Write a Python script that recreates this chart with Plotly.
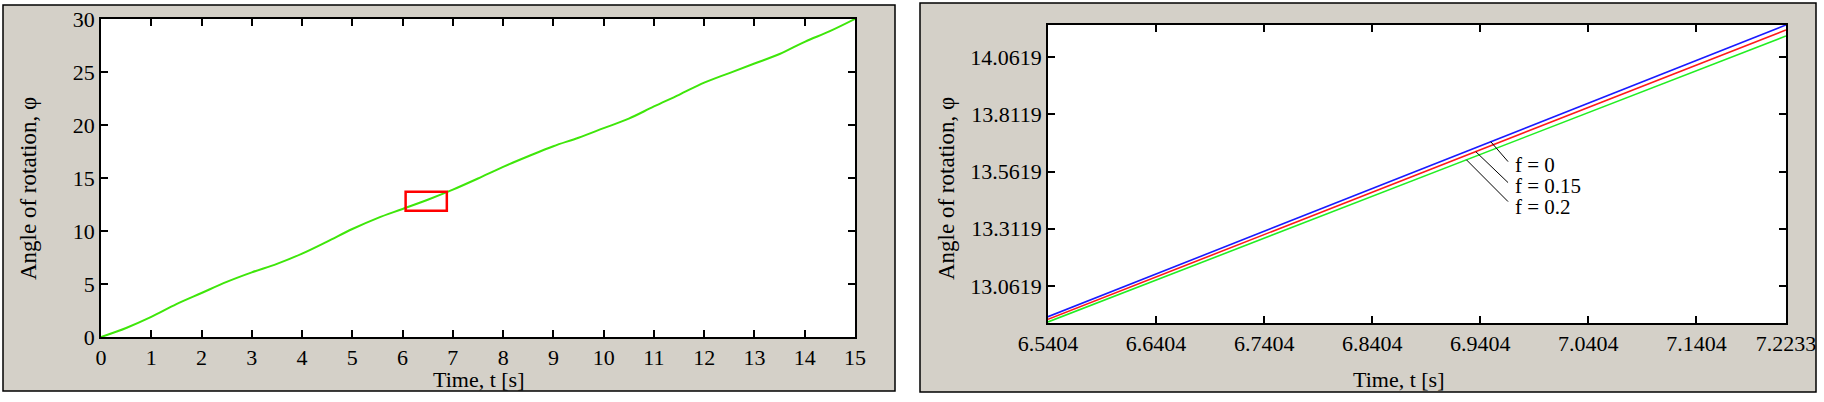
import numpy as np
import plotly.graph_objects as go

# full run, f = 0.2
t_full = [0, 0.5, 1, 1.5, 2, 2.5, 3, 3.5, 4, 4.5, 5, 5.5, 6, 6.5, 7, 7.5,
          8, 8.5, 9, 9.5, 10, 10.5, 11, 11.5, 12, 12.5, 13, 13.5, 14, 14.5, 15]
phi_full = [0, 0.85, 1.89, 3.1, 4.15, 5.2, 6.1, 6.9, 7.86, 9.0, 10.19, 11.22,
            12.08, 12.95, 13.9, 14.95, 16.05, 17.05, 18.0, 18.8, 19.7, 20.6,
            21.75, 22.85, 24.0, 24.9, 25.8, 26.7, 27.85, 28.85, 30]

# zoomed window, three friction values
t_zoom = [6.5404, 7.2233]
phi_f0 = [12.928, 14.2015]
phi_f015 = [12.9166, 14.1797]
phi_f02 = [12.905, 14.1535]
f_labels = ["f = 0", "f = 0.15", "f = 0.2"]

x_zoom_ticks = [6.5404, 6.6404, 6.7404, 6.8404, 6.9404, 7.0404, 7.1404, 7.2233]
y_zoom_ticks = [13.0619, 13.3119, 13.5619, 13.8119, 14.0619]

W, H = 1824, 402
FONT = "Liberation Serif"
PANEL = "#D4D0C8"
LEFT_PLOT = (101, 855, 19, 337)
RIGHT_PLOT = (1048, 1786, 25, 323)


def px(x):
    return x / W


def py(y):
    return 1 - y / H


fig = go.Figure()
fig.add_trace(go.Scatter(x=t_full, y=phi_full, mode="lines", line=dict(color="#3ee60a", width=2, shape="spline"),
                         xaxis="x", yaxis="y", showlegend=False))
for ys, col in zip([phi_f02, phi_f015, phi_f0], ["#22ee22", "#ff1a1a", "#1a1aff"]):
    fig.add_trace(go.Scatter(x=t_zoom, y=ys, mode="lines", line=dict(color=col, width=1.6),
                             xaxis="x2", yaxis="y2", showlegend=False))

axis_common = dict(showgrid=False, zeroline=False, showline=True, linecolor="black", linewidth=1.5,
                   mirror="ticks", ticks="inside", ticklen=7, tickwidth=1.5, tickcolor="black",
                   automargin=False, tickfont=dict(family=FONT, size=22, color="black"))

fig.update_layout(
    width=W, height=H,
    margin=dict(l=0, r=0, t=0, b=0, pad=0, autoexpand=False),
    paper_bgcolor="white", plot_bgcolor="white",
    xaxis=dict(domain=[px(LEFT_PLOT[0]), px(LEFT_PLOT[1])], range=[0, 15], tickmode="linear", tick0=0, dtick=1,
               anchor="y", **axis_common),
    yaxis=dict(domain=[py(LEFT_PLOT[3]), py(LEFT_PLOT[2])], range=[0, 30], tickmode="linear", tick0=0, dtick=5,
               anchor="x", **axis_common),
    xaxis2=dict(domain=[px(RIGHT_PLOT[0]), px(RIGHT_PLOT[1])], range=[6.5404, 7.2233], tickvals=x_zoom_ticks,
                ticktext=[f"{v:.4f}" for v in x_zoom_ticks], anchor="y2", **axis_common),
    yaxis2=dict(domain=[py(RIGHT_PLOT[3]), py(RIGHT_PLOT[2])], range=[12.9005, 14.2015], tickvals=y_zoom_ticks,
                ticktext=[f"{v:.4f}" for v in y_zoom_ticks], anchor="x2", **axis_common),
)

# grey panels behind each plot, white plot areas on top of them
shapes = []
for x0, x1, y0, y1 in [(3, 895, 5, 391), (920, 1816, 3, 392)]:
    shapes.append(dict(type="rect", xref="paper", yref="paper", x0=px(x0), x1=px(x1), y0=py(y1), y1=py(y0),
                       fillcolor=PANEL, line=dict(color="black", width=1.5), layer="below"))
for x0, x1, y0, y1 in [LEFT_PLOT, RIGHT_PLOT]:
    shapes.append(dict(type="rect", xref="paper", yref="paper", x0=px(x0), x1=px(x1), y0=py(y1), y1=py(y0),
                       fillcolor="white", line=dict(width=0), layer="below"))
# red box marking the zoomed window
shapes.append(dict(type="rect", xref="x", yref="y", x0=6.06, x1=6.88, y0=11.9, y1=13.7,
                   line=dict(color="red", width=2.5)))

# leader lines from each curve to its label
lead_t = [6.9501, 6.9362, 6.9276]
lead_end_t = 6.9661
lead_end_phi = [13.6051, 13.5135, 13.4306]
label_phi = [13.5907, 13.5004, 13.4074]
annotations = []
for ys, t0, ye, lab, yl in zip([phi_f0, phi_f015, phi_f02], lead_t, lead_end_phi, f_labels, label_phi):
    shapes.append(dict(type="line", xref="x2", yref="y2", x0=t0, y0=float(np.interp(t0, t_zoom, ys)),
                       x1=lead_end_t, y1=ye, line=dict(color="black", width=1)))
    annotations.append(dict(xref="x2", yref="y2", x=6.9704, y=yl, text=lab, showarrow=False,
                            xanchor="left", yanchor="middle", font=dict(family=FONT, size=21, color="black")))

for x, y, text, angle in [(478, 379, "Time, t [s]", 0), (28, 189, "Angle of rotation, φ", -90),
                          (1398, 379, "Time, t [s]", 0), (946, 189, "Angle of rotation, φ", -90)]:
    annotations.append(dict(xref="paper", yref="paper", x=px(x), y=py(y), text=text, showarrow=False,
                            xanchor="center", yanchor="middle", textangle=angle,
                            font=dict(family=FONT, size=22 if angle == 0 else 23, color="black")))

fig.update_layout(shapes=shapes, annotations=annotations)
# drop the default 8px page margin so the figure sits at the window corner
fig.write_html("out.html", config={"displayModeBar": False},
               post_script="document.body.style.margin='0';")
